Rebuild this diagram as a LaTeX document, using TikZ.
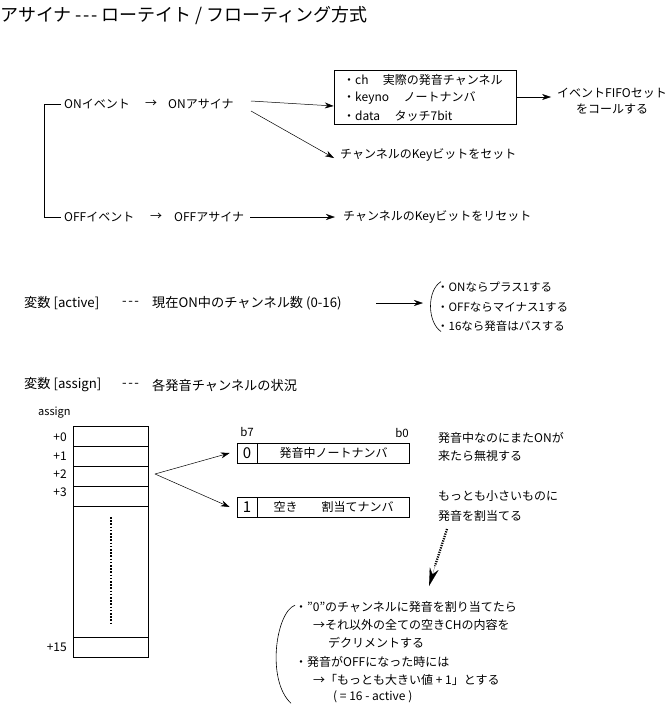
\documentclass[tikz,border=0pt]{standalone}
\usepackage{fontspec}
\setmainfont{Noto Sans CJK JP}
\usetikzlibrary{arrows.meta}
\newcommand\dsh{-\kern1.5pt-\kern1.5pt-}
\begin{document}
\begin{tikzpicture}[x=1pt,y=-1pt,
  t/.style={inner sep=0pt, anchor=west, font=\fontsize{12}{14}\selectfont},
  tb/.style={inner sep=0pt, anchor=west, font=\fontsize{13.2}{15}\selectfont},
  ts/.style={inner sep=0pt, anchor=west, font=\fontsize{11.5}{13}\selectfont},
  arr/.style={-{Stealth[length=9pt,width=6pt]}, line width=0.5pt},
  ln/.style={line width=0.6pt},
  cell/.style={draw, line width=0.6pt, minimum width=75pt, minimum height=20pt, inner sep=0pt},
  bitc/.style={draw, line width=0.6pt, minimum height=20pt, inner sep=0pt},
  dots/.style={line width=2.6pt, dash pattern=on 1.6pt off 1.6pt},
]
\useasboundingbox (0,0) rectangle (671,707);

% title
\node[t, font=\fontsize{18}{20}\selectfont] (title) at (0,16) {アサイナ \dsh{} ローテイト / フローティング方式};

% ON / OFF events
\node[t] (onev) at (64,104) {ONイベント};
\node[t] (onto) at (145,104) {→};
\node[t] (onas) at (168,104) {ONアサイナ};
\node[t] (offev) at (64,217) {OFFイベント};
\node[t] (offto) at (150,217) {→};
\node[t] (offas) at (174,217) {OFFアサイナ};
\draw[ln] ([xshift=-3pt]onev.west) -- (44,104) |- ([xshift=-3pt]offev.west);

% info box
\node[draw, ln, minimum width=182pt, minimum height=54pt, inner sep=0pt] (box) at (425,97) {};
\node[t] (b1) at (343,80) {・ch\hspace{1.2em}実際の発音チャンネル};
\node[t] (b2) at (343,98) {・keyno\hspace{1.2em}ノートナンバ};
\node[t] (b3) at (343,116) {・data\hspace{1.2em}タッチ7bit};

\coordinate (onA) at (251,101);
\coordinate (onB) at (251,111);
\draw[arr] (onA) -- ([yshift=-9pt]box.west);
\node[t] (keyset) at (340,155) {チャンネルのKeyビットをセット};
\draw[arr] (onB) -- ([xshift=-6pt,yshift=-3pt]keyset.west);

\node[t, align=center, anchor=center] (fifo) at (612,101) {イベントFIFOセット\\[2pt]をコールする};
\draw[arr] (box.east) -- ([xshift=-6pt]fifo.west |- box.east);

\node[t] (keyreset) at (343,217) {チャンネルのKeyビットをリセット};
\coordinate (offA) at (250,217);
\draw[arr] (offA) -- ([xshift=-8pt]keyreset.west);

% active
\node[tb] (act) at (24,303) {変数 [active]};
\node[tb] (actd) at (122,303) {\dsh};
\node[tb] (actx) at (152,303) {現在ON中のチャンネル数 (0-16)};
\node[ts] (a1) at (437,287) {・ONならプラス1する};
\node[ts] (a2) at (437,307) {・OFFならマイナス1する};
\node[ts] (a3) at (437,326) {・16なら発音はパスする};
\draw[ln] ([xshift=4pt]a1.north west) .. controls (427,290) and (427,322) .. ([xshift=4pt]a3.south west);
\coordinate (actA) at (376,303);
\draw[arr] (actA) -- ([xshift=-14pt]a2.west |- actA);

% assign
\node[tb] (asg) at (24,385) {変数 [assign]};
\node[tb] (asgd) at (122,385) {\dsh};
\node[tb] (asgx) at (152,385) {各発音チャンネルの状況};
\node[t, font=\fontsize{11}{13}\selectfont] (asglbl) at (38,413) {assign};

\node[cell] (r0) at (110.5,436.5) {};
\node[cell] (r1) at (110.5,456.5) {};
\node[cell] (r2) at (110.5,476.5) {};
\node[cell] (r3) at (110.5,496.5) {};
\node[cell, minimum height=131pt] (rd) at (110.5,571.5) {};
\node[cell] (r15) at (110.5,647) {};
\node[t, anchor=east] (l0) at (67,437) {+0};
\node[t, anchor=east] (l1) at (67,456) {+1};
\node[t, anchor=east] (l2) at (67,474) {+2};
\node[t, anchor=east] (l3) at (67,492) {+3};
\node[t, anchor=east] (l15) at (67,647) {+15};
\coordinate (dtop) at (111,517);
\coordinate (dbot) at (111,624);
\draw[dots] (dtop) -- (dbot);

% bit boxes
\node[bitc, minimum width=20pt, font=\fontsize{15}{16}\selectfont] (z0) at (247,453) {0};
\node[bitc, minimum width=152pt, anchor=west, font=\fontsize{12}{14}\selectfont] (z1) at (z0.east) {発音中ノートナンバ};
\node[bitc, minimum width=20pt, font=\fontsize{15}{16}\selectfont] (o0) at (247,507) {1};
\node[bitc, minimum width=152pt, anchor=west, font=\fontsize{12}{14}\selectfont] (o1) at (o0.east) {空き\hspace{2em}割当てナンバ};
\node[ts, anchor=center] (b7) at (247,432) {b7};
\node[ts, anchor=center] (b0) at (402,433) {b0};
\coordinate (fork) at (155,474);
\draw[arr] (fork) -- ([xshift=-7pt]z0.west);
\draw[arr] (fork) -- ([xshift=-7pt]o0.west);

\node[t] (n1) at (438,438) {発音中なのにまたONが};
\node[t] (n2) at (438,456) {来たら無視する};
\node[t] (n3) at (438,496) {もっとも小さいものに};
\node[t] (n4) at (438,516) {発音を割当てる};

% bottom notes
\node[t] (m1) at (295,607) {・"0"のチャンネルに発音を割り当てたら};
\node[t] (m2) at (313,625) {→それ以外の全ての空きCHの内容を};
\node[t] (m3) at (328,643) {デクリメントする};
\node[t] (m4) at (295,662) {・発音がOFFになった時には};
\node[t] (m5) at (313,680) {→「もっとも大きい値 + 1」とする};
\node[t] (m6) at (333,697) {( = 16 - active )};
\draw[ln] ([yshift=-4pt]m1.north west) .. controls (276,612) and (266,680) .. ([xshift=-4pt]m6.south west -| m1.west);

\coordinate (dstart) at (447,529);
\coordinate (dtip) at (429,586);
\draw[dots, line width=2.2pt, dash pattern=on 1.2pt off 1.2pt] (dstart) -- (435,566);
\draw[-{Stealth[length=18pt,width=9pt]}, line width=0.1pt] (435,566) -- (dtip);
\end{tikzpicture}
\end{document}
